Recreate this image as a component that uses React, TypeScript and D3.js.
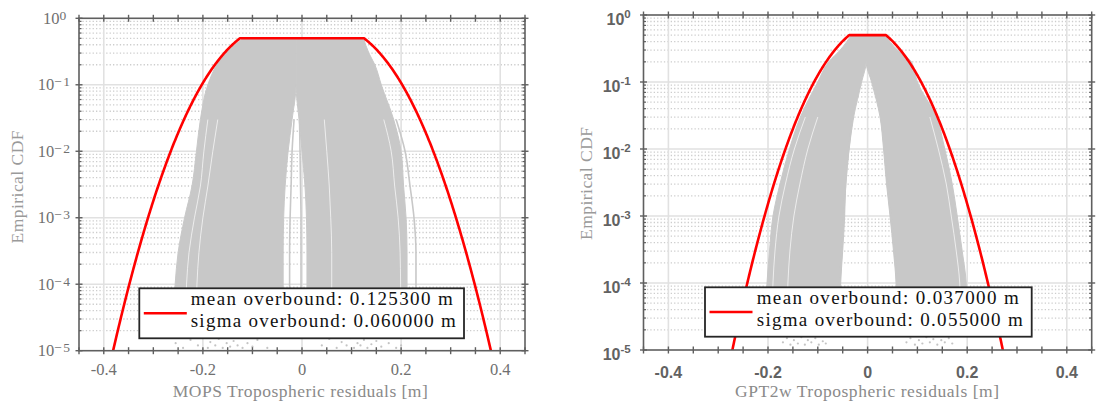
import React from 'react';
import * as d3 from 'd3';

// ---- data -------------------------------------------------------------
const xMajorTicks = [-0.4, -0.2, 0, 0.2, 0.4];
const xMajorLabels = ['-0.4', '-0.2', '0', '0.2', '0.4'];
const xMinorTicks = [-0.45, -0.4, -0.35, -0.3, -0.25, -0.2, -0.15, -0.1, -0.05, 0, 0.05, 0.1, 0.15, 0.2, 0.25, 0.3, 0.35, 0.4, 0.45];
const yDecades = [1, 1e-1, 1e-2, 1e-3, 1e-4, 1e-5];
const yExpLatex = ['0', '\u22121', '\u22122', '\u22123', '\u22124', '\u22125'];
const yExpBold = ['0', '-1', '-2', '-3', '-4', '-5'];

// probability levels at which the envelope of the empirical CDF bundle is traced
const cdfLevels = [0.5, 0.3, 0.2, 0.1, 0.03, 0.01, 3e-3, 1e-3, 3e-4, 1e-4, 3e-5];
// lower levels used for individual strands in the tails
const tailLevels = [0.03, 0.01, 3e-3, 1e-3, 3e-4, 1e-4, 3e-5];

// MOPS residual CDF bundle
const mopsOuterLeft = [-0.118, -0.155, -0.172, -0.19, -0.205, -0.213, -0.222, -0.237, -0.25, -0.256, -0.26];
const mopsGapLeft = [-0.012, -0.012, -0.012, -0.012, -0.02, -0.028, -0.034, -0.037, -0.038, -0.038, -0.038];
const mopsGapRight = [-0.012, -0.012, -0.012, -0.012, -0.006, 0.0, 0.006, 0.009, 0.01, 0.01, 0.01];
const mopsOuterRight = [0.124, 0.135, 0.147, 0.16, 0.185, 0.2, 0.205, 0.21, 0.212, 0.212, 0.212];
const mopsStrandsGray = [
  [0.19, 0.208, 0.218, 0.226, 0.23, 0.23, 0.23],
  [-0.016, -0.02, -0.022, -0.024, -0.025, -0.025, -0.025],
  [-0.005, -0.004, -0.003, -0.002, -0.002, -0.002, -0.002],
];
const mopsStrandsLight = [
  [-0.19, -0.198, -0.205, -0.217, -0.228, -0.233, -0.235],
  [-0.17, -0.18, -0.19, -0.2, -0.208, -0.212, -0.214],
  [0.165, 0.18, 0.187, 0.194, 0.198, 0.199, 0.2],
  [0.045, 0.05, 0.055, 0.058, 0.06, 0.06, 0.06],
];
const mopsTailX = [-0.27, -0.255, -0.24, -0.225, -0.21, -0.2, -0.19, -0.185, -0.175, -0.168, -0.16, -0.152, -0.145, -0.138, -0.13, -0.12, -0.11, -0.1, -0.09, -0.07,
  0.04, 0.055, 0.07, 0.08, 0.09, 0.097, 0.105, 0.112, 0.118, 0.125, 0.132, 0.14, 0.15, 0.16, 0.175, 0.19, 0.2];
const mopsTailP = [1.6e-5, 1.3e-5, 1.1e-5, 1.45e-5, 1.2e-5, 1.55e-5, 1.1e-5, 1.35e-5, 1.2e-5, 1.5e-5, 1.1e-5, 1.3e-5, 1.15e-5, 1.4e-5, 1.2e-5, 1.1e-5, 1.3e-5, 1.15e-5, 1.45e-5, 1.1e-5,
  1.2e-5, 1.5e-5, 1.1e-5, 1.35e-5, 1.2e-5, 1.55e-5, 1.1e-5, 1.3e-5, 1.2e-5, 1.45e-5, 1.1e-5, 1.25e-5, 1.4e-5, 1.15e-5, 1.3e-5, 1.1e-5, 1.2e-5];
const mopsMean = 0.1253;
const mopsSigma = 0.06;

// GPT2w residual CDF bundle
const gptOuterLeft = [-0.033, -0.055, -0.078, -0.1, -0.135, -0.157, -0.176, -0.19, -0.197, -0.202, -0.205];
const gptGapLeft = [-0.003, -0.003, -0.003, -0.012, -0.028, -0.037, -0.044, -0.046, -0.05, -0.054, -0.055];
const gptGapRight = [-0.003, -0.003, -0.003, 0.008, 0.025, 0.032, 0.038, 0.045, 0.052, 0.057, 0.058];
const gptOuterRight = [0.035, 0.06, 0.088, 0.1, 0.138, 0.155, 0.17, 0.18, 0.19, 0.198, 0.2];
const gptStrandsGray = [
  [-0.03, -0.038, -0.044, -0.048, -0.052, -0.056, -0.058],
  [0.027, 0.034, 0.04, 0.047, 0.054, 0.059, 0.061],
];
const gptStrandsLight = [
  [-0.125, -0.147, -0.165, -0.178, -0.186, -0.19, -0.192],
  [-0.1, -0.12, -0.136, -0.148, -0.156, -0.16, -0.162],
  [0.125, 0.142, 0.158, 0.168, 0.178, 0.185, 0.187],
];
const gptTailX = [-0.17, -0.162, -0.155, -0.148, -0.14, -0.133, -0.126, -0.12, -0.113, -0.105, -0.098, -0.09, -0.084,
  0.078, 0.086, 0.095, 0.103, 0.11, 0.118, 0.125, 0.132, 0.14, 0.148, 0.155, 0.163, 0.17];
const gptTailP = [1.3e-5, 1.5e-5, 1.2e-5, 1.4e-5, 1.25e-5, 1.55e-5, 1.2e-5, 1.4e-5, 1.3e-5, 1.5e-5, 1.2e-5, 1.35e-5, 1.25e-5,
  1.3e-5, 1.5e-5, 1.2e-5, 1.4e-5, 1.25e-5, 1.55e-5, 1.3e-5, 1.45e-5, 1.2e-5, 1.4e-5, 1.3e-5, 1.5e-5, 1.25e-5];
const gptMean = 0.037;
const gptSigma = 0.055;

// ---- helpers ----------------------------------------------------------
const SERIF = "'Liberation Serif', 'Times New Roman', serif";
const SANS = "'Liberation Sans', Arial, sans-serif";
const AXIS = '#5f5f5f';
const GRAY = '#c8c8c8';

function normCdf(z: number): number {
  const x = -z / Math.SQRT2;
  const t = 1 / (1 + 0.5 * Math.abs(x));
  const r = t * Math.exp(-x * x - 1.26551223 + t * (1.00002368 + t * (0.37409196 + t * (0.09678418 +
    t * (-0.18628806 + t * (0.27886807 + t * (-1.13520398 + t * (1.48851587 + t * (-0.82215223 + t * 0.17087277)))))))));
  const erfc = x >= 0 ? r : 2 - r;
  return 0.5 * erfc;
}

function overbound(x: number, m: number, s: number): number {
  if (x < -m) return normCdf((x + m) / s);
  if (x > m) return normCdf(-(x - m) / s);
  return 0.5;
}

type PanelProps = {
  id: string;
  left: number; right: number; top: number; bottom: number;
  latex: boolean;
  xLabel: string; xLabelX: number; xLabelLen: number;
  yLabelX: number; yLabelY: number;
  outerLeft: number[]; gapLeft: number[]; gapRight: number[]; outerRight: number[];
  strandsGray: number[][]; strandsLight: number[][];
  tailX: number[]; tailP: number[];
  mean: number; sigma: number;
  legend: { x: number; y: number; w: number; h: number; textX: number; lenA: number; lenB: number };
};

function Panel(p: PanelProps) {
  const x = d3.scaleLinear().domain([-0.45, 0.45]).range([p.left, p.right]);
  const y = d3.scaleLog().domain([1e-5, 1]).range([p.bottom, p.top]);
  const idx = d3.range(cdfLevels.length);
  const tIdx = d3.range(tailLevels.length);

  const lobeL = d3.area<number>().curve(d3.curveMonotoneY)
    .y(i => y(cdfLevels[i])).x0(i => x(p.outerLeft[i])).x1(i => x(p.gapLeft[i]));
  const lobeR = d3.area<number>().curve(d3.curveMonotoneY)
    .y(i => y(cdfLevels[i])).x0(i => x(p.gapRight[i])).x1(i => x(p.outerRight[i]));
  const strand = (xsArr: number[]) => d3.line<number>().curve(d3.curveMonotoneY)
    .y(i => y(tailLevels[i])).x(i => x(xsArr[i]))(tIdx) || '';

  const xs = d3.range(-0.45, 0.4501, 0.001).concat([-p.mean, p.mean]).sort((a, b) => a - b);
  const redLine = d3.line<number>()
    .x(v => x(v))
    .y(v => y(Math.max(1e-8, overbound(v, p.mean, p.sigma))));

  const minor: number[] = [];
  for (let e = -5; e < 0; e++) for (let k = 2; k <= 9; k++) minor.push(k * Math.pow(10, e));

  const labelFill = p.latex ? '#707070' : '#626262';
  const lg = p.legend;

  return (
    <g>
      <defs>
        <clipPath id={`clip-${p.id}`}>
          <rect x={p.left} y={p.top} width={p.right - p.left} height={p.bottom - p.top} />
        </clipPath>
      </defs>
      <rect x={p.left} y={p.top} width={p.right - p.left} height={p.bottom - p.top} fill="#fff" />
      {/* minor grid */}
      {minor.map((v, i) => (
        <line key={`mg${i}`} x1={p.left} x2={p.right} y1={y(v)} y2={y(v)}
          stroke="#cdcdcd" strokeWidth={1.3} strokeDasharray="1.3 2.1" />
      ))}
      {/* major grid */}
      {yDecades.slice(1, 5).map((v, i) => (
        <line key={`yg${i}`} x1={p.left} x2={p.right} y1={y(v)} y2={y(v)} stroke="#e1e1e1" strokeWidth={1.6} />
      ))}
      {xMajorTicks.map((v, i) => (
        <line key={`xg${i}`} x1={x(v)} x2={x(v)} y1={p.top} y2={p.bottom} stroke="#e1e1e1" strokeWidth={1.6} />
      ))}
      <g clipPath={`url(#clip-${p.id})`}>
        <path d={lobeL(idx) || ''} fill={GRAY} stroke={GRAY} strokeWidth={1} />
        <path d={lobeR(idx) || ''} fill={GRAY} stroke={GRAY} strokeWidth={1} />
        {p.strandsLight.map((s, i) => (
          <path key={`sl${i}`} d={strand(s)} fill="none" stroke="#ffffff" strokeOpacity={0.75} strokeWidth={0.9} />
        ))}
        {p.strandsGray.map((s, i) => (
          <path key={`sg${i}`} d={strand(s)} fill="none" stroke={GRAY} strokeWidth={1.6} />
        ))}
        {p.tailX.map((v, i) => (
          <circle key={`td${i}`} cx={x(v)} cy={y(p.tailP[i])} r={1.1} fill="#c4c4c4" />
        ))}
        <path d={redLine(xs) || ''} fill="none" stroke="#ff0000" strokeWidth={2.6} strokeLinejoin="round" />
      </g>
      {/* axes box */}
      <rect x={p.left} y={p.top} width={p.right - p.left} height={p.bottom - p.top}
        fill="none" stroke={AXIS} strokeWidth={1.6} />
      {xMinorTicks.map((v, i) => (
        <g key={`xt${i}`} stroke={AXIS} strokeWidth={1.4}>
          <line x1={x(v)} x2={x(v)} y1={p.bottom - 3.5} y2={p.bottom + 3.5} />
          <line x1={x(v)} x2={x(v)} y1={p.top - 3.5} y2={p.top + 3.5} />
        </g>
      ))}
      {yDecades.map((v, i) => (
        <g key={`yt${i}`} stroke={AXIS} strokeWidth={1.4}>
          <line x1={p.left - 3.5} x2={p.left + 3.5} y1={y(v)} y2={y(v)} />
          <line x1={p.right - 3.5} x2={p.right + 3.5} y1={y(v)} y2={y(v)} />
        </g>
      ))}
      {minor.map((v, i) => (
        <g key={`ymt${i}`} stroke={AXIS} strokeWidth={1.2}>
          <line x1={p.left} x2={p.left + 2.5} y1={y(v)} y2={y(v)} />
          <line x1={p.right - 2.5} x2={p.right} y1={y(v)} y2={y(v)} />
        </g>
      ))}
      {/* tick labels */}
      {xMajorTicks.map((v, i) => (
        p.latex ? (
          <text key={`xl${i}`} x={x(v)} y={p.bottom + 24.5} textAnchor="middle" fontFamily={SERIF}
            fontSize={16.5} fill={labelFill}>{xMajorLabels[i]}</text>
        ) : (
          <text key={`xl${i}`} x={x(v)} y={p.bottom + 28} textAnchor="middle" fontFamily={SANS}
            fontWeight="bold" fontSize={16} fill={labelFill}>{xMajorLabels[i]}</text>
        )
      ))}
      {yDecades.map((v, i) => (
        p.latex ? (
          <text key={`yl${i}`} x={p.left - 24.4} y={y(v) + 5.7} textAnchor="middle" fontFamily={SERIF}
            fontSize={16.5} fill={labelFill}>
            <tspan>10</tspan>
            <tspan dy={-4.3} fontSize={13.5} letterSpacing={i === 0 ? 0 : 1.5}>{yExpLatex[i]}</tspan>
          </text>
        ) : (
          <text key={`yl${i}`} x={p.left - 12.8} y={y(v) + 9.7} textAnchor="end" fontFamily={SANS}
            fontWeight="bold" fontSize={16} fill={labelFill}>
            <tspan>10</tspan>
            <tspan dy={-6.7} fontSize={11.5}>{yExpBold[i]}</tspan>
          </text>
        )
      ))}
      {/* axis labels */}
      <text x={p.xLabelX} y={397} textAnchor="middle" fontFamily={SERIF} fontSize={17.5} fill="#8a8a8a"
        textLength={p.xLabelLen} lengthAdjust="spacing">{p.xLabel}</text>
      <text transform={`translate(${p.yLabelX},${p.yLabelY}) rotate(-90)`} textAnchor="middle"
        fontFamily={SERIF} fontSize={17.5} fill="#9a9a9a" textLength={113} lengthAdjust="spacing">Empirical CDF</text>
      {/* legend */}
      <rect x={lg.x} y={lg.y} width={lg.w} height={lg.h} fill="#fff" stroke="#262626" strokeWidth={1.8} />
      <line x1={lg.x + 4.5} x2={lg.x + 47.5} y1={lg.y + lg.h / 2} y2={lg.y + lg.h / 2} stroke="#ff0000" strokeWidth={2.6} />
      <text x={lg.textX} y={lg.y + 16.5} fontFamily={SERIF} fontSize={19} fill="#111"
        textLength={lg.lenA} lengthAdjust="spacing">{`mean overbound: ${p.mean.toFixed(6)} m`}</text>
      <text x={lg.textX} y={lg.y + 38.5} fontFamily={SERIF} fontSize={19} fill="#111"
        textLength={lg.lenB} lengthAdjust="spacing">{`sigma overbound: ${p.sigma.toFixed(6)} m`}</text>
    </g>
  );
}

export default function App() {
  return (
    <svg width={1097} height={405} viewBox="0 0 1097 405"
      style={{ position: 'absolute', left: 0, top: 0, background: '#fff' }}>
      <rect x={0} y={0} width={1097} height={405} fill="#fff" />
      <Panel id="mops" left={79} right={525} top={18.3} bottom={350.7} latex
        xLabel="MOPS Tropospheric residuals [m]" xLabelX={300.3} xLabelLen={255}
        yLabelX={23.3} yLabelY={187}
        outerLeft={mopsOuterLeft} gapLeft={mopsGapLeft} gapRight={mopsGapRight} outerRight={mopsOuterRight}
        strandsGray={mopsStrandsGray} strandsLight={mopsStrandsLight}
        tailX={mopsTailX} tailP={mopsTailP} mean={mopsMean} sigma={mopsSigma}
        legend={{ x: 139.3, y: 288.3, w: 324.7, h: 50, textX: 190.7, lenA: 262, lenB: 265 }} />
      <Panel id="gpt" left={643.5} right={1091.7} top={15} bottom={350} latex={false}
        xLabel="GPT2w Tropospheric residuals [m]" xLabelX={867} xLabelLen={264}
        yLabelX={591.7} yLabelY={183.5}
        outerLeft={gptOuterLeft} gapLeft={gptGapLeft} gapRight={gptGapRight} outerRight={gptOuterRight}
        strandsGray={gptStrandsGray} strandsLight={gptStrandsLight}
        tailX={gptTailX} tailP={gptTailP} mean={gptMean} sigma={gptSigma}
        legend={{ x: 705, y: 287.3, w: 326.7, h: 49.4, textX: 756.7, lenA: 262, lenB: 266 }} />
    </svg>
  );
}
